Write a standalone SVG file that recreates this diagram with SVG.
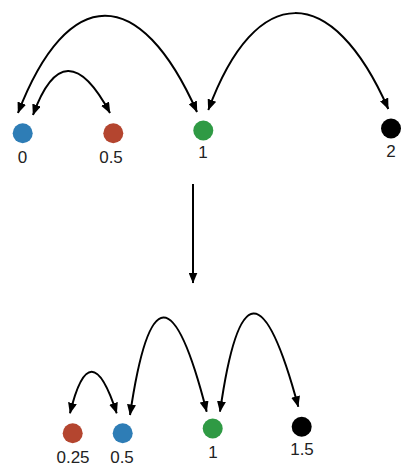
<svg xmlns="http://www.w3.org/2000/svg" width="407" height="471" viewBox="0 0 407 471">
  <style>
    .lbl { font-family: "Liberation Sans", Arial, sans-serif; font-size: 17px; fill: #222; text-anchor: middle; }
    .arc { fill: none; stroke: #000; stroke-width: 2; }
    .blue { fill: #2e7db6; }
    .red { fill: #b4452f; }
    .green { fill: #2f9a44; }
    .black { fill: #000; }
  </style>
  <defs>
    <marker id="ah" viewBox="0 0 11 9" refX="10.5" refY="4.5" markerWidth="11" markerHeight="9" markerUnits="userSpaceOnUse" orient="auto-start-reverse">
      <path d="M0,0 L11,4.5 L0,9 z" fill="#000"/>
    </marker>
  </defs>
  <rect width="407" height="471" fill="#fff"/>

  <g id="connectors">
    <path class="arc" d="M197,112 C140,-16.5 68,-16.5 18,113" marker-start="url(#ah)" marker-end="url(#ah)"/>
    <path class="arc" d="M33,115 Q64.5,28 110,113" marker-start="url(#ah)" marker-end="url(#ah)"/>
    <path class="arc" d="M208.3,110 C256,-19 332,-19 388.3,109" marker-start="url(#ah)" marker-end="url(#ah)"/>
    <path class="arc" d="M193,184 L193,283" marker-end="url(#ah)"/>
    <path class="arc" d="M70,413.3 Q90,330 116.7,413.3" marker-start="url(#ah)" marker-end="url(#ah)"/>
    <path class="arc" d="M130,415 Q158.3,221.6 206.7,411.7" marker-start="url(#ah)" marker-end="url(#ah)"/>
    <path class="arc" d="M220,411.7 Q247.5,217.6 298.3,406.7" marker-start="url(#ah)" marker-end="url(#ah)"/>
  </g>

  <g id="top-0"><circle class="blue" cx="22.7" cy="133.3" r="10"/><text class="lbl" x="22.5" y="163">0</text></g>
  <g id="top-05"><circle class="red" cx="113.3" cy="133.3" r="10"/><text class="lbl" x="111" y="163">0.5</text></g>
  <g id="top-1"><circle class="green" cx="203.3" cy="130.5" r="10"/><text class="lbl" x="203" y="158">1</text></g>
  <g id="top-2"><circle class="black" cx="391" cy="128.5" r="10"/><text class="lbl" x="391" y="157">2</text></g>

  <g id="bot-025"><circle class="red" cx="72.7" cy="433.3" r="10"/><text class="lbl" x="73" y="463">0.25</text></g>
  <g id="bot-05"><circle class="blue" cx="122.7" cy="433.3" r="10"/><text class="lbl" x="122" y="463">0.5</text></g>
  <g id="bot-1"><circle class="green" cx="212.7" cy="428.5" r="10"/><text class="lbl" x="213" y="458">1</text></g>
  <g id="bot-15"><circle class="black" cx="301.7" cy="426.7" r="10"/><text class="lbl" x="302" y="455">1.5</text></g>
</svg>
